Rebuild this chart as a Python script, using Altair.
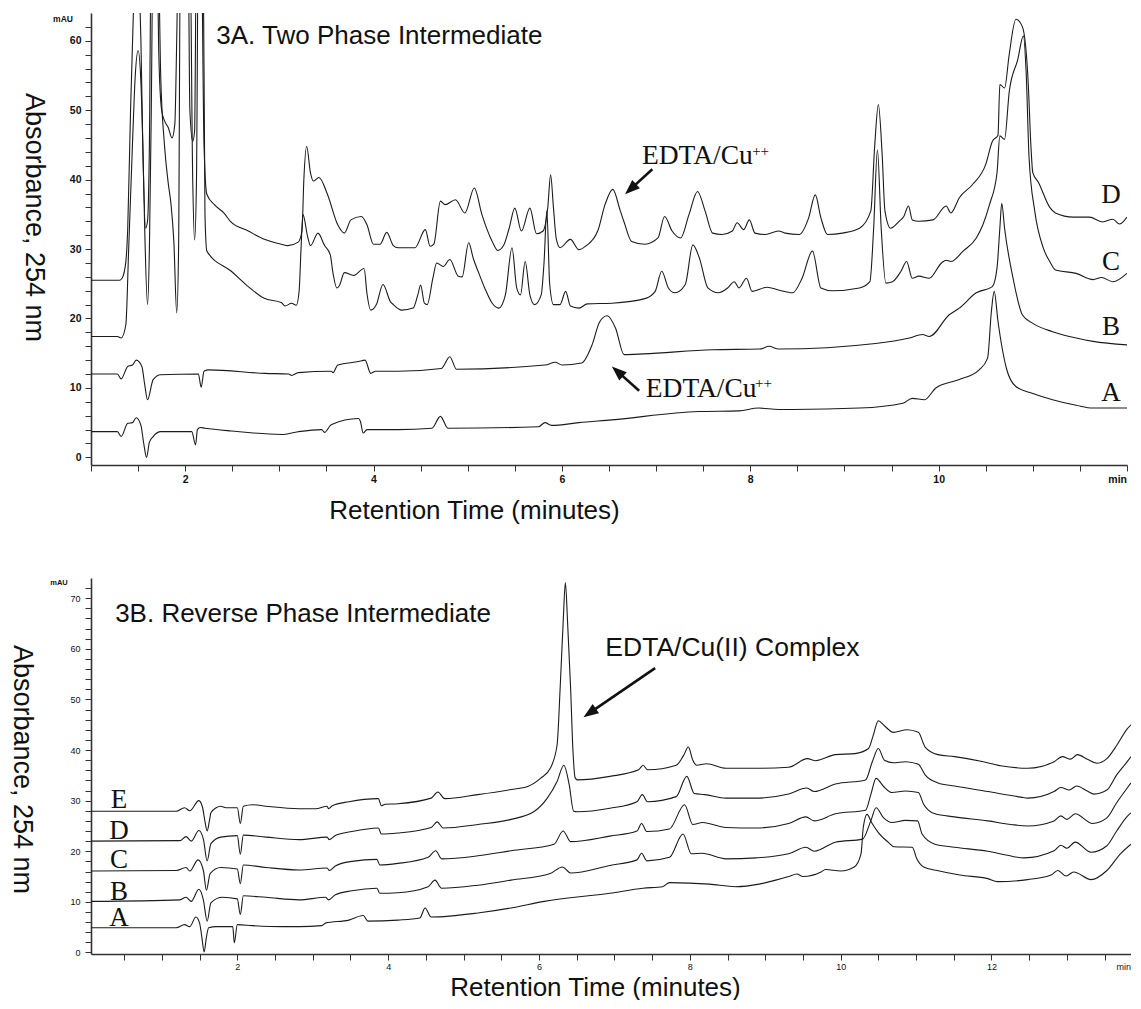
import math
import altair as alt
import pandas as pd

# ---------------- Panel 3A : Two Phase Intermediate (t in min, v in mAU) ----------------
TOP_A = [(1.00,3.7),(1.28,3.7),(1.32,3.0),(1.39,4.9),(1.44,5.0),(1.48,5.7),(1.53,4.6),(1.56,2.0),(1.59,0.0),
         (1.62,2.2),(1.66,3.0),(1.74,3.7),(2.07,3.7),(2.11,1.8),(2.13,4.0),(2.16,4.3),(2.21,4.2),(2.49,3.8),
         (3.02,3.3),(3.20,3.7),(3.45,4.0),(3.48,3.6),(3.55,4.7),(3.84,5.6),(3.86,5.2),(3.89,3.5),(3.93,4.0),
         (4.26,4.0),(4.62,4.2),(4.71,5.9),(4.79,4.2),(5.75,4.4),(5.82,5.0),(5.89,4.6),(6.18,5.0),(6.53,5.4),
         (7.45,6.6),(7.88,6.7),(8.09,7.1),(8.30,6.9),(8.45,6.9),(9.16,7.1),(9.62,7.8),(9.72,8.5),(9.85,8.3),
         (9.97,10.0),(10.22,11.2),(10.43,12.6),(10.52,14.3),(10.56,21.0),(10.59,23.9),(10.63,19.6),(10.72,12.8),
         (10.82,10.2),(11.00,9.2),(11.21,8.3),(11.46,7.5),(11.64,7.1),(12.00,7.1)]
TOP_B = [(1.00,12.0),(1.28,12.0),(1.32,11.3),(1.39,13.1),(1.44,13.3),(1.48,14.0),(1.54,13.1),(1.57,10.5),(1.60,8.3),
         (1.66,11.2),(1.74,11.9),(2.14,12.0),(2.17,10.1),(2.20,12.4),(2.25,12.6),(2.85,12.1),(3.10,12.0),(3.13,11.8),
         (3.20,12.2),(3.55,12.4),(3.57,12.2),(3.62,13.3),(3.84,13.8),(3.91,14.0),(3.97,12.1),(4.02,12.4),(4.26,12.4),
         (4.72,12.8),(4.81,14.5),(4.88,12.7),(5.82,13.3),(5.93,13.7),(6.00,13.3),(6.21,13.6),(6.32,16.2),(6.40,19.5),
         (6.48,20.4),(6.57,18.6),(6.66,14.8),(6.87,14.9),(7.60,15.5),(8.10,15.6),(8.20,16.0),(8.30,15.6),(9.33,16.4),
         (9.69,17.2),(9.83,17.7),(9.90,17.4),(10.11,20.5),(10.22,21.5),(10.40,23.7),(10.57,24.6),(10.62,27.3),
         (10.65,33.0),(10.67,36.6),(10.70,33.0),(10.79,25.8),(10.89,20.5),(11.00,19.3),(11.21,18.1),(11.46,17.2),
         (11.64,16.7),(12.00,16.2)]
TOP_C = [(1.00,17.4),(1.28,17.4),(1.32,17.2),(1.37,19.1),(1.40,30.0),(1.44,45.0),(1.47,55.0),(1.50,58.6),(1.53,54.0),
         (1.55,45.0),(1.57,33.0),(1.60,22.0),(1.62,30.0),(1.64,50.0),(1.66,75.0),(1.71,75.0),(1.74,55.0),(1.78,45.0),
         (1.82,39.5),(1.85,36.4),(1.88,31.0),(1.91,20.8),(1.93,30.0),(1.95,75.0),(2.05,75.0),(2.08,40.0),(2.10,31.3),
         (2.12,40.0),(2.14,75.0),(2.19,75.0),(2.21,35.0),(2.23,29.7),(2.49,26.8),(2.67,24.6),(2.84,22.9),(3.02,22.3),
         (3.06,21.8),(3.13,22.2),(3.18,21.9),(3.21,24.0),(3.23,30.0),(3.25,35.0),(3.30,31.8),(3.33,30.5),(3.41,32.3),
         (3.48,30.5),(3.54,29.2),(3.57,26.5),(3.61,24.4),(3.64,24.8),(3.69,26.6),(3.79,26.2),(3.90,27.2),(3.93,23.6),
         (3.97,21.2),(4.03,22.0),(4.10,24.9),(4.18,22.4),(4.21,22.0),(4.30,21.2),(4.42,21.5),(4.47,23.4),(4.50,24.8),
         (4.54,22.2),(4.57,22.0),(4.63,25.8),(4.67,28.0),(4.74,27.5),(4.81,28.5),(4.90,26.1),(4.94,26.0),(5.01,30.9),
         (5.06,28.6),(5.11,26.8),(5.18,24.4),(5.26,22.2),(5.33,21.5),(5.40,23.4),(5.47,30.2),(5.52,24.4),(5.56,23.4),
         (5.61,28.2),(5.66,23.4),(5.71,22.0),(5.78,23.4),(5.81,28.0),(5.84,35.5),(5.87,25.0),(5.91,22.0),(5.98,22.0),
         (6.04,23.9),(6.09,21.8),(6.18,21.5),(6.27,22.1),(6.53,22.2),(6.89,22.9),(6.99,23.9),(7.06,26.8),(7.13,24.4),
         (7.20,23.7),(7.31,24.9),(7.39,30.6),(7.46,28.7),(7.55,24.4),(7.66,23.7),(7.76,24.4),(7.83,25.3),(7.88,24.4),
         (7.96,25.8),(8.02,23.9),(8.18,24.5),(8.30,24.1),(8.45,23.7),(8.55,25.8),(8.66,29.7),(8.75,24.4),(8.87,24.0),
         (9.16,24.4),(9.27,25.3),(9.31,33.0),(9.35,44.3),(9.39,33.0),(9.44,25.1),(9.51,25.3),(9.60,26.8),(9.66,28.2),
         (9.72,25.8),(9.79,26.1),(9.90,25.8),(10.03,28.0),(10.08,28.4),(10.13,28.2),(10.26,29.7),(10.40,31.6),
         (10.47,33.5),(10.54,36.4),(10.62,41.0),(10.65,46.3),(10.70,45.8),(10.75,52.7),(10.84,57.3),(10.90,60.7),
         (10.93,55.2),(10.96,43.2),(11.02,35.5),(11.11,30.2),(11.18,28.2),(11.24,27.0),(11.46,26.5),(11.64,25.6),
         (11.73,25.9),(11.85,25.3),(12.00,26.5)]
TOP_D = [(1.00,25.5),(1.30,25.5),(1.33,25.8),(1.37,28.2),(1.39,33.0),(1.42,50.0),(1.45,64.0),(1.48,75.0),(1.51,70.0),
         (1.53,60.0),(1.55,45.0),(1.58,33.0),(1.60,34.0),(1.62,45.0),(1.64,75.0),(1.70,75.0),(1.72,58.0),(1.75,50.0),
         (1.78,48.5),(1.82,47.5),(1.86,46.0),(1.89,48.0),(1.91,60.0),(1.93,75.0),(2.03,75.0),(2.05,50.0),(2.08,45.5),
         (2.10,47.0),(2.12,75.0),(2.17,75.0),(2.20,45.0),(2.23,37.9),(2.31,36.4),(2.41,35.2),(2.48,34.0),(2.67,32.6),
         (2.84,31.4),(3.02,30.7),(3.09,30.5),(3.20,31.0),(3.24,32.6),(3.26,40.0),(3.29,44.8),(3.33,41.0),(3.36,39.8),
         (3.42,40.3),(3.51,37.9),(3.62,33.5),(3.69,32.3),(3.76,34.2),(3.87,34.7),(3.93,33.5),(4.00,30.7),(4.07,30.7),
         (4.14,32.4),(4.21,30.5),(4.26,30.2),(4.44,30.2),(4.55,32.8),(4.60,30.4),(4.64,30.7),(4.71,36.9),(4.76,36.4),
         (4.87,37.1),(4.97,35.2),(5.07,38.8),(5.15,35.0),(5.26,31.1),(5.32,29.8),(5.38,30.5),(5.44,33.0),(5.50,35.9),
         (5.57,32.6),(5.66,35.9),(5.73,32.2),(5.80,32.6),(5.85,36.0),(5.88,40.7),(5.91,36.0),(5.94,31.5),(5.98,30.2),
         (6.09,31.4),(6.18,29.9),(6.25,30.4),(6.38,32.6),(6.46,36.5),(6.54,38.6),(6.62,35.5),(6.66,33.9),(6.74,31.1),
         (6.88,30.7),(7.02,31.6),(7.09,34.7),(7.17,32.6),(7.26,31.6),(7.35,35.0),(7.44,38.3),(7.52,35.5),(7.60,32.3),
         (7.70,32.1),(7.81,32.6),(7.86,33.8),(7.93,32.8),(7.99,34.2),(8.05,32.3),(8.16,32.1),(8.30,32.6),(8.37,32.3),
         (8.52,32.1),(8.62,34.5),(8.69,37.8),(8.75,34.5),(8.82,32.1),(8.98,32.3),(9.16,33.0),(9.28,35.5),(9.32,44.6),
         (9.36,50.8),(9.40,43.7),(9.43,35.5),(9.49,33.0),(9.58,34.0),(9.63,34.7),(9.68,36.2),(9.72,34.2),(9.79,34.0),
         (9.94,34.2),(10.08,36.2),(10.13,35.2),(10.22,37.4),(10.36,39.3),(10.50,42.2),(10.57,45.5),(10.63,46.4),
         (10.65,53.7),(10.70,53.2),(10.75,58.1),(10.82,63.1),(10.89,62.0),(10.95,54.2),(10.98,44.8),(11.00,41.0),
         (11.06,39.6),(11.18,36.0),(11.24,35.2),(11.43,34.6),(11.60,34.6),(11.74,33.9),(11.85,34.3),(11.92,33.6),
         (12.00,34.6)]
TOP_TRACE_NAMES = ["A", "B", "C", "D"]
TOP_LABEL_V = [8.1, 17.6, 27.0, 36.7]          # baseline of the trace letters
TOP_LABEL_T = 11.83

# ---------------- Panel 3B : Reverse Phase Intermediate ----------------
BOT_A = [(0.06,4.9),(1.19,4.9),(1.30,5.5),(1.37,5.1),(1.45,7.0),(1.50,5.8),(1.53,3.0),(1.56,0.1),(1.59,3.0),(1.62,4.9),
         (1.72,5.1),(1.94,5.1),(1.96,1.9),(2.00,5.5),(2.20,5.3),(2.60,5.1),(2.82,5.1),(3.12,5.3),(3.17,5.8),(3.48,6.4),
         (3.67,7.3),(3.73,6.2),(4.13,6.4),(4.42,6.8),(4.49,8.8),(4.57,7.0),(5.19,7.8),(5.63,8.8),(6.07,10.1),(6.94,11.7),
         (7.38,12.7),(7.64,13.0),(7.73,13.8),(8.26,13.5),(8.61,13.0),(8.92,13.5),(9.14,14.3),(9.31,15.0),(9.42,15.5),
         (9.50,15.0),(9.74,15.9),(9.80,16.4),(10.00,16.1),(10.18,16.9),(10.27,19.5),(10.30,24.7),(10.35,27.3),
         (10.41,25.7),(10.50,23.7),(10.63,21.8),(10.71,20.9),(10.95,20.8),(11.01,18.5),(11.10,16.9),(11.28,16.2),
         (11.58,15.3),(11.95,14.6),(12.08,14.0),(12.48,14.4),(12.79,15.3),(12.88,16.2),(12.99,15.1),(13.09,15.9),
         (13.32,14.4),(13.53,16.2),(13.71,19.5),(13.85,21.4)]
BOT_B = [(0.06,10.1),(1.24,10.4),(1.32,10.9),(1.39,10.1),(1.49,12.5),(1.55,10.4),(1.60,6.2),(1.65,9.8),(1.80,10.9),
         (2.00,10.6),(2.04,7.5),(2.08,11.2),(2.38,10.9),(2.82,10.4),(3.17,10.9),(3.21,10.4),(3.30,11.4),(3.52,12.2),
         (3.85,12.7),(3.89,11.7),(4.13,11.8),(4.53,13.0),(4.62,14.3),(4.71,12.7),(5.19,13.3),(5.63,14.3),(6.15,15.6),
         (6.31,16.9),(6.42,15.7),(6.94,17.2),(7.30,18.3),(7.36,19.6),(7.43,18.1),(7.73,18.8),(7.91,23.4),(8.02,19.5),
         (8.16,19.6),(8.48,18.5),(8.88,18.7),(9.31,19.5),(9.54,20.8),(9.65,20.0),(9.93,21.8),(10.29,22.4),(10.40,26.0),
         (10.47,28.6),(10.57,26.6),(10.68,25.7),(10.86,26.1),(11.02,26.0),(11.08,23.4),(11.25,21.4),(11.51,20.8),
         (11.95,20.0),(12.21,19.2),(12.43,18.7),(12.83,20.1),(12.92,21.2),(13.00,20.6),(13.11,21.8),(13.32,19.8),
         (13.53,21.1),(13.66,24.0),(13.80,26.9),(13.85,27.6)]
BOT_C = [(0.06,16.1),(1.19,16.2),(1.32,16.8),(1.37,16.1),(1.48,18.3),(1.55,16.2),(1.59,12.3),(1.64,15.6),(1.78,16.8),
         (2.00,16.5),(2.04,13.6),(2.08,17.3),(2.38,16.8),(2.82,16.3),(3.19,16.7),(3.22,16.2),(3.30,17.1),(3.52,18.0),
         (3.85,18.4),(3.89,17.3),(4.13,17.6),(4.53,18.8),(4.63,20.1),(4.71,18.5),(5.19,19.1),(5.63,20.1),(6.20,21.4),
         (6.32,24.0),(6.42,21.9),(6.94,23.0),(7.30,24.0),(7.36,25.5),(7.43,23.9),(7.73,24.4),(7.93,29.2),(8.04,25.3),
         (8.17,25.7),(8.48,24.7),(8.88,24.6),(9.31,25.5),(9.54,26.8),(9.65,26.0),(9.93,27.4),(10.33,28.1),(10.40,31.2),
         (10.47,34.4),(10.57,32.8),(10.68,31.6),(10.86,31.9),(11.03,31.6),(11.10,29.3),(11.25,27.4),(11.51,26.8),
         (11.95,26.0),(12.26,25.3),(12.48,25.0),(12.83,26.0),(12.92,27.0),(13.00,26.3),(13.11,27.4),(13.34,25.5),
         (13.53,26.6),(13.66,29.6),(13.80,32.5),(13.85,33.5)]
BOT_D = [(0.06,22.0),(1.24,22.1),(1.32,22.9),(1.39,22.0),(1.49,24.1),(1.55,22.4),(1.60,18.1),(1.65,21.5),(1.78,22.8),
         (2.00,23.1),(2.04,19.4),(2.08,23.2),(2.38,22.8),(2.82,22.3),(3.19,22.8),(3.22,22.3),(3.30,23.1),(3.52,23.9),
         (3.87,24.6),(3.91,23.4),(4.13,23.6),(4.57,24.7),(4.65,25.8),(4.73,24.6),(5.19,25.3),(5.63,26.3),(5.94,27.9),
         (6.11,30.5),(6.24,33.8),(6.33,37.0),(6.40,33.2),(6.46,27.9),(6.51,27.8),(6.94,28.5),(7.30,29.8),(7.37,31.2),
         (7.44,29.8),(7.82,30.8),(7.96,34.8),(8.06,31.4),(8.20,31.2),(8.48,30.5),(8.88,30.5),(9.31,31.3),(9.55,32.5),
         (9.65,31.8),(9.93,33.3),(10.33,34.1),(10.42,37.7),(10.50,40.3),(10.58,38.0),(10.70,37.5),(10.86,37.7),
         (11.03,37.2),(11.12,35.1),(11.29,33.5),(11.51,32.9),(11.95,31.8),(12.39,30.7),(12.48,30.5),(12.83,31.8),
         (12.92,32.6),(13.03,32.1),(13.13,32.9),(13.27,31.9),(13.36,31.3),(13.53,32.1),(13.66,35.1),(13.80,37.7),
         (13.85,38.7)]
BOT_E = [(0.06,27.9),(1.19,27.9),(1.30,28.6),(1.37,28.0),(1.49,30.0),(1.54,28.6),(1.57,26.0),(1.60,24.0),(1.63,26.0),
         (1.65,27.6),(1.72,28.6),(1.78,28.9),(1.85,28.6),(2.00,28.6),(2.04,25.5),(2.08,28.9),(2.20,29.2),(2.38,28.9),
         (2.82,28.4),(3.04,28.4),(3.19,28.9),(3.21,28.4),(3.26,29.0),(3.48,29.8),(3.87,30.4),(3.91,29.0),(3.96,29.3),
         (4.13,29.4),(4.57,30.5),(4.66,31.7),(4.75,30.4),(5.19,31.2),(5.63,32.2),(5.85,32.8),(6.02,34.4),(6.15,36.4),
         (6.24,41.0),(6.28,52.0),(6.32,65.0),(6.35,73.1),(6.38,65.0),(6.42,52.0),(6.45,40.0),(6.48,34.5),(6.51,34.1),
         (6.94,34.8),(7.32,36.1),(7.38,37.0),(7.44,36.1),(7.82,37.0),(7.92,39.0),(7.98,40.6),(8.04,38.0),(8.09,37.0),
         (8.22,37.3),(8.48,36.4),(8.88,36.4),(9.31,36.6),(9.56,38.3),(9.67,37.9),(9.93,39.1),(10.19,39.3),(10.37,40.3),
         (10.43,42.8),(10.50,45.8),(10.58,44.8),(10.70,43.5),(10.88,44.0),(11.03,43.5),(11.12,40.6),(11.29,39.1),
         (11.51,38.7),(11.86,37.8),(12.12,36.9),(12.48,36.4),(12.83,37.7),(12.94,38.7),(13.05,38.2),(13.14,39.1),
         (13.27,38.2),(13.40,37.4),(13.53,38.3),(13.66,40.9),(13.80,44.2),(13.85,45.0)]
BOT_TRACE_NAMES = ["A", "B", "C", "D", "E"]
BOT_LABEL_V = [5.2, 10.4, 16.6, 22.4, 28.6]
BOT_LABEL_T = 0.43

# annotations (data coordinates)
TOP_ANN_TAIL = [(6.96, 41.5), (6.82, 9.6)]
TOP_ANN_TIP = [(6.67, 37.9), (6.53, 13.1)]
TOP_ANN_TEXT_POS = [(6.85, 42.2), (6.89, 8.76)]
TOP_ANN_SUP_POS = [(8.02, 43.4), (8.05, 10.0)]
BOT_ANN_TAIL = [(7.54, 56.2)]
BOT_ANN_TIP = [(6.59, 46.5)]

# ---------------- layout / style ----------------
SANS = "Liberation Sans"
SERIF = "Liberation Serif"
W_TOP, H_TOP = 1036, 452
W_BOT, H_BOT = 1040, 376
TOP_XD, TOP_YD = [1.0, 12.0], [-1.1, 64.0]
BOT_XD, BOT_YD = [0.06, 13.85], [-0.3, 74.0]


def traces_df(names, series):
    rows = []
    for name, pts in zip(names, series):
        for t, v in pts:
            rows.append({"t": t, "v": v, "trace": name})
    return pd.DataFrame(rows)


def arrow_dfs(tails, tips, xd, yd, w, h, head=7.5):
    kx = w / (xd[1] - xd[0])
    ky = h / (yd[1] - yd[0])
    lines, heads = [], []
    for (t0, v0), (t1, v1) in zip(tails, tips):
        dxp = (t1 - t0) * kx
        dyp = -(v1 - v0) * ky
        L = math.hypot(dxp, dyp)
        ux, uy = dxp / L, dyp / L
        ang = math.degrees(math.atan2(ux, -uy)) % 360
        ct = t1 - ux * head / kx
        cv = v1 + uy * head / ky
        lines.append({"t": t0, "v": v0, "t2": ct, "v2": cv})
        heads.append({"t": ct, "v": cv, "ang": ang})
    return pd.DataFrame(lines), pd.DataFrame(heads)


def make_x(domain, values, labexpr, title, tx, ty, fs, bold, lpad, tfs):
    return alt.X("t:Q", scale=alt.Scale(domain=domain, nice=False, zero=False),
                 axis=alt.Axis(values=values, labelExpr=labexpr, title=title, titleX=tx, titleY=ty,
                               titleAlign="center", titleBaseline="alphabetic", titleFont=SANS,
                               titleFontSize=tfs, titleFontWeight="normal", titleColor="#111",
                               labelFont=SANS, labelFontSize=fs, labelFontWeight="bold" if bold else "normal",
                               labelColor="#111", labelPadding=lpad, labelFlush=False, labelOverlap=False,
                               tickSize=6, tickColor="#333", domainColor="#333", domainWidth=1.6, grid=False))


def make_y(domain, values, labexpr, title, tx, ty, fs, bold, lpad, tfs):
    return alt.Y("v:Q", scale=alt.Scale(domain=domain, nice=False, zero=False),
                 axis=alt.Axis(values=values, labelExpr=labexpr, title=title, titleX=tx, titleY=ty,
                               titleAngle=90, titleAlign="center", titleBaseline="middle", titleFont=SANS,
                               titleFontSize=tfs, titleFontWeight="normal", titleColor="#111",
                               labelFont=SANS, labelFontSize=fs, labelFontWeight="bold" if bold else "normal",
                               labelColor="#111", labelPadding=lpad, labelFlush=False, labelOverlap=False,
                               tickSize=6, tickColor="#333", domainColor="#333", domainWidth=1.6, grid=False))


ARROW_SHAPE = "M0,-1L0.75,1L-0.75,1Z"


def panel(traces, names, label_names, label_t, label_v, xd, yd, w, h, X, Y, title_text, title_pos,
          mau_dx, mau_v, mau_fs, min_fs, min_bold, min_dy, ann_lines, ann_heads, texts):
    df = traces_df(names, traces)
    lines = alt.Chart(df).mark_line(color="#1b1b1b", strokeWidth=1.1, clip=True,
                                    interpolate="monotone").encode(x=X, y=Y, detail="trace:N")
    lab_df = pd.DataFrame({"t": [label_t] * len(label_names), "v": label_v, "lab": label_names})
    letters = alt.Chart(lab_df).mark_text(font=SERIF, fontSize=27, align="center", baseline="alphabetic",
                                          color="#111").encode(x=X, y=Y, text="lab:N")
    ttl = alt.Chart(pd.DataFrame({"t": [title_pos[0]], "v": [title_pos[1]], "s": [title_text]})).mark_text(
        font=SANS, fontSize=26, align="left", baseline="alphabetic", color="#111").encode(x=X, y=Y, text="s:N")
    mau = alt.Chart(pd.DataFrame({"t": [xd[0]], "v": [mau_v], "s": ["mAU"]})).mark_text(
        font=SANS, fontSize=mau_fs, fontWeight="bold", align="center", baseline="middle", dx=mau_dx,
        color="#111").encode(x=X, y=Y, text="s:N")
    mn = alt.Chart(pd.DataFrame({"t": [xd[1]], "v": [yd[0]], "s": ["min"]})).mark_text(
        font=SANS, fontSize=min_fs, fontWeight="bold" if min_bold else "normal", align="right",
        baseline="top", dy=min_dy, color="#111").encode(x=X, y=Y, text="s:N")
    arr_l = alt.Chart(ann_lines).mark_rule(color="#111", strokeWidth=2.6).encode(
        x=X, y=Y, x2="t2:Q", y2="v2:Q")
    arr_h = alt.Chart(ann_heads).mark_point(shape=ARROW_SHAPE, filled=True, size=225, color="#111",
                                            opacity=1).encode(x=X, y=Y, angle=alt.Angle("ang:Q", scale=None))
    layers = [lines, letters, ttl, mau, mn, arr_l, arr_h] + [tx.encode(x=X, y=Y) for tx in texts]
    return alt.layer(*layers).properties(width=w, height=h)


# ---- top panel ----
kx_t = [1.0 + 0.5 * i for i in range(23)]
X_TOP = make_x(TOP_XD, kx_t, "datum.value % 2 == 0 && datum.value < 11.9 ? format(datum.value, 'd') : ''",
               "Retention Time (minutes)", 383, 53, 10.5, True, 3, 26)
Y_TOP = make_y(TOP_YD, [2 * i for i in range(32)], "datum.value % 10 == 0 ? format(datum.value, 'd') : ''",
               "Absorbance, 254 nm", -58, 204, 10.5, True, 4, 27)
top_lines_df, top_heads_df = arrow_dfs(TOP_ANN_TAIL, TOP_ANN_TIP, TOP_XD, TOP_YD, W_TOP, H_TOP)
top_txt = alt.Chart(pd.DataFrame({"t": [p[0] for p in TOP_ANN_TEXT_POS], "v": [p[1] for p in TOP_ANN_TEXT_POS],
                                  "s": ["EDTA/Cu", "EDTA/Cu"]})).mark_text(
    font=SERIF, fontSize=27.5, align="left", baseline="alphabetic", color="#111").encode(text="s:N")
top_sup = alt.Chart(pd.DataFrame({"t": [p[0] for p in TOP_ANN_SUP_POS], "v": [p[1] for p in TOP_ANN_SUP_POS],
                                  "s": ["++", "++"]})).mark_text(
    font=SERIF, fontSize=15, align="left", baseline="alphabetic", color="#111").encode(text="s:N")
top = panel([TOP_A, TOP_B, TOP_C, TOP_D], TOP_TRACE_NAMES, TOP_TRACE_NAMES, TOP_LABEL_T, TOP_LABEL_V,
            TOP_XD, TOP_YD, W_TOP, H_TOP, X_TOP, Y_TOP, "3A. Two Phase Intermediate", (2.33, 59.5),
            -28, 63.2, 8.5, 10.5, True, 10, top_lines_df, top_heads_df, [top_txt, top_sup])

# ---- bottom panel ----
kx_b = [0.5 * i for i in range(1, 28)]
X_BOT = make_x(BOT_XD, kx_b, "datum.value % 2 == 0 ? format(datum.value, 'd') : ''",
               "Retention Time (minutes)", 504, 41, 9, False, 2, 26)
Y_BOT = make_y(BOT_YD, [2 * i for i in range(37)], "datum.value % 10 == 0 ? format(datum.value, 'd') : ''",
               "Absorbance, 254 nm", -70, 191, 9, False, 5, 27)
bot_lines_df, bot_heads_df = arrow_dfs(BOT_ANN_TAIL, BOT_ANN_TIP, BOT_XD, BOT_YD, W_BOT, H_BOT)
bot_txt = alt.Chart(pd.DataFrame({"t": [6.88], "v": [58.5], "s": ["EDTA/Cu(II) Complex"]})).mark_text(
    font=SANS, fontSize=26.5, align="left", baseline="alphabetic", color="#111").encode(text="s:N")
bottom = panel([BOT_A, BOT_B, BOT_C, BOT_D, BOT_E], BOT_TRACE_NAMES, BOT_TRACE_NAMES, BOT_LABEL_T, BOT_LABEL_V,
               BOT_XD, BOT_YD, W_BOT, H_BOT, X_BOT, Y_BOT, "3B. Reverse Phase Intermediate", (0.38, 65.3),
               -32, 73.1, 7.5, 9, False, 9, bot_lines_df, bot_heads_df, [bot_txt])

chart = alt.vconcat(top, bottom, spacing=55).properties(
    padding={"left": 0, "right": 0, "top": 5, "bottom": 0}, background="white"
).configure_view(stroke=None)

chart.save("out.html", embed_options={"renderer": "svg", "actions": False})
